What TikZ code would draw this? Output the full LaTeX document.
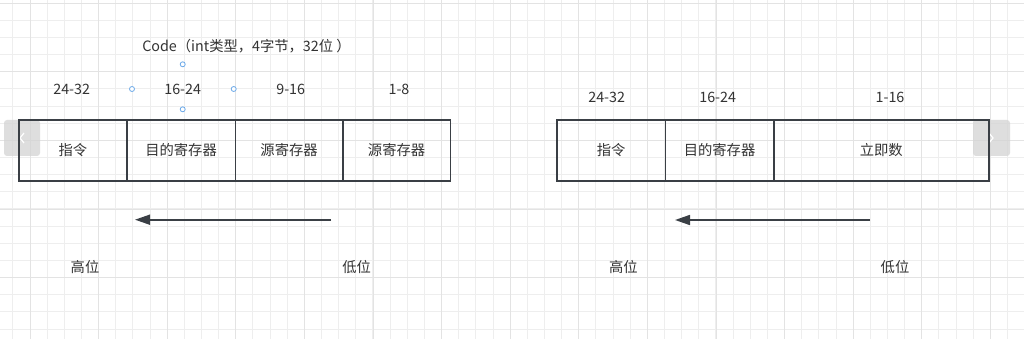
\documentclass[tikz,border=0pt]{standalone}
\usepackage{fontspec}
\setmainfont{Noto Sans CJK SC}
\usetikzlibrary{arrows.meta}
\definecolor{txt}{HTML}{333333}
\definecolor{boxc}{HTML}{3A3F45}
\definecolor{gridminor}{HTML}{EEEEEE}
\definecolor{gridmajor}{HTML}{E3E3E3}
\definecolor{handle}{HTML}{6AA8E8}
\definecolor{navc}{HTML}{D4D4D4}
\tikzset{
  minorline/.style={draw=gridminor, line width=1pt},
  majorline/.style={draw=gridmajor, line width=1.2pt},
  cell/.style={draw=boxc, line width=1.6pt, rectangle, minimum height=61pt, inner sep=0pt, anchor=north west, text=txt, font=\fontsize{14.3}{16}\selectfont},
  lbl/.style={text=txt, font=\fontsize{14.3}{16}\selectfont, inner sep=0pt},
  hnd/.style={circle, draw=handle, fill=white, line width=0.8pt, minimum size=5pt, inner sep=0pt},
  navbtn/.style={fill=navc, fill opacity=0.75, rounded corners=3pt},
  chev/.style={draw=white, line width=1.2pt},
  dirarrow/.style={draw=boxc, line width=1.6pt, -{Triangle[length=15pt, width=10pt]}}
}
\begin{document}
\begin{tikzpicture}[x=1pt, y=-1pt]
\useasboundingbox (0,0) rectangle (1024,339);
\fill[white] (0,0) rectangle (1024,339);
% grid
\foreach \k in {-2,...,58} {
  \pgfmathsetmacro{\xx}{floor(30+17.15*\k)+0.5}
  \draw[minorline] (\xx,0) -- (\xx,339);
}
\foreach \k in {0,...,19} {
  \pgfmathsetmacro{\yy}{floor(3.2+17.15*\k)+0.5}
  \draw[minorline] (0,\yy) -- (1024,\yy);
}
\foreach \k in {0,...,14} {
  \pgfmathsetmacro{\xx}{floor(30+68.6*\k)+0.5}
  \draw[majorline] (\xx,0) -- (\xx,339);
}
\foreach \k in {0,...,4} {
  \pgfmathsetmacro{\yy}{floor(3.2+68.6*\k)+0.5}
  \draw[majorline] (0,\yy) -- (1024,\yy);
}
% nav buttons
\fill[navbtn] (4,120) rectangle (40,156);
\draw[chev] (24,133) -- (20,138) -- (24,143);
\fill[navbtn] (973,120) rectangle (1010,156);
\draw[chev] (989,133) -- (993,138) -- (989,143);
% title and labels
\node[lbl] (title) at (246.5,45.7) {Code（int类型，4字节，32位\ ）};
\node[lbl] (l1) at (71.7,89) {24-32};
\node[lbl] (l2) at (182.7,89) {16-24};
\node[lbl] (l3) at (290.7,89) {9-16};
\node[lbl] (l4) at (399,89) {1-8};
\node[hnd] (h1) at (182.7,64.3) {};
\node[hnd] (h2) at (182.7,109.3) {};
\node[hnd] (h3) at (132,89) {};
\node[hnd] (h4) at (233.7,89) {};
\node[lbl] (r1) at (606.7,97.3) {24-32};
\node[lbl] (r2) at (717.7,97.3) {16-24};
\node[lbl] (r3) at (890,97.3) {1-16};
% left box
\node[cell, minimum width=108pt] (a1) at (18,119) {指令};
\node[cell, minimum width=108.5pt] (a2) at (126,119) {目的寄存器};
\node[cell, minimum width=107.5pt] (a3) at (234.5,119) {源寄存器};
\node[cell, minimum width=107.5pt] (a4) at (342,119) {源寄存器};
% right box
\node[cell, minimum width=108.5pt] (b1) at (556,119) {指令};
\node[cell, minimum width=108.5pt] (b2) at (664.5,119) {目的寄存器};
\node[cell, minimum width=215pt] (b3) at (773,119) {立即数};
% arrows
\coordinate (la1) at (331,219.7);
\coordinate (la2) at (135,219.7);
\draw[dirarrow] (la1) -- (la2);
\coordinate (ra1) at (870,220);
\coordinate (ra2) at (675,220);
\draw[dirarrow] (ra1) -- (ra2);
% bottom labels
\node[lbl] (hi1) at (85,266.7) {高位};
\node[lbl] (lo1) at (356.7,266.7) {低位};
\node[lbl] (hi2) at (623.3,266.7) {高位};
\node[lbl] (lo2) at (895,266.7) {低位};
\end{tikzpicture}
\end{document}
